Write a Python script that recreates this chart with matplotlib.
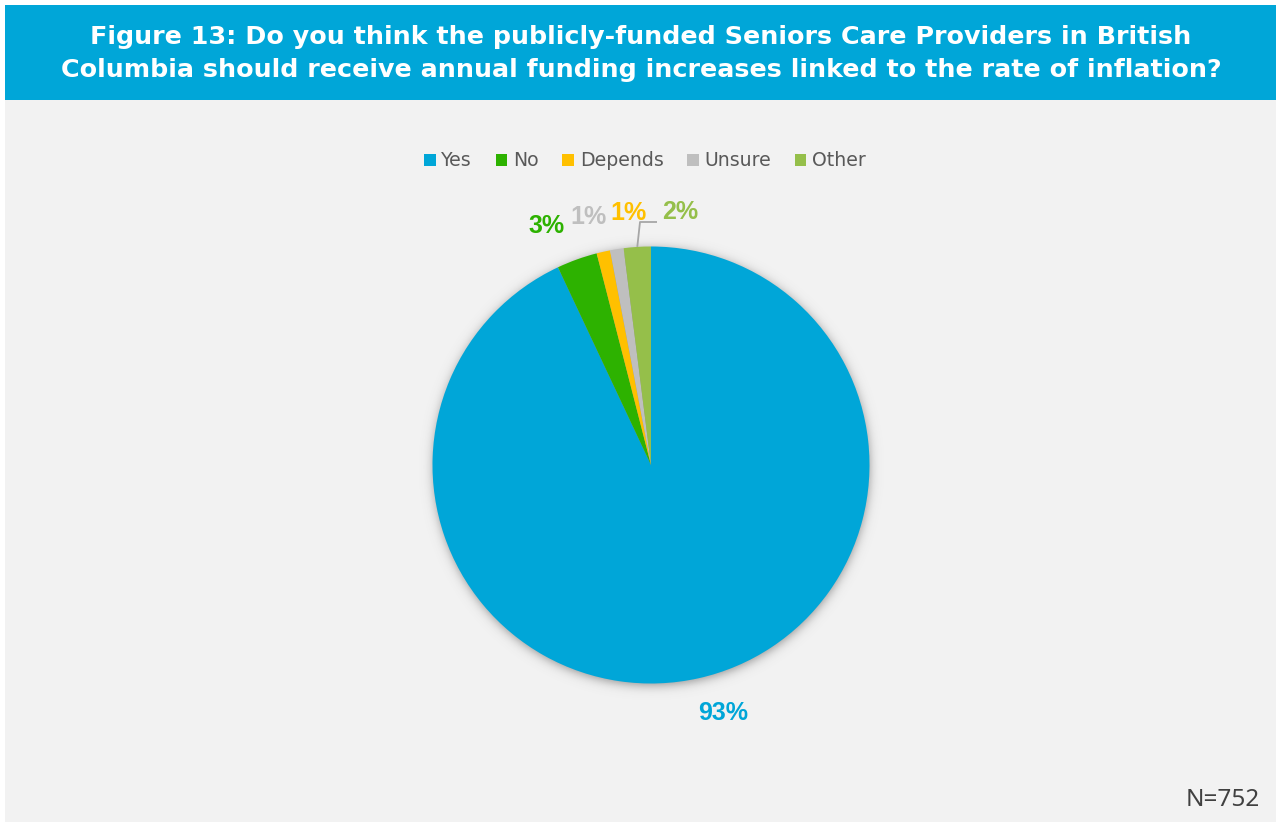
import numpy as np
import matplotlib
matplotlib.use("Agg")
import matplotlib.pyplot as plt
from matplotlib.patches import Rectangle, Patch

# Survey responses (share of respondents, %)
categories = ["Yes", "No", "Depends", "Unsure", "Other"]
shares = [93, 3, 1, 1, 2]
colors = ["#00A6D8", "#2DB200", "#FFC000", "#BFBFBF", "#95BF4A"]
label_colors = ["#00A6D8", "#2DB200", "#BFBFBF", "#FFC000", "#95BF4A"]
title_lines = [
    "Figure 13: Do you think the publicly-funded Seniors Care Providers in British",
    "Columbia should receive annual funding increases linked to the rate of inflation?",
]
sample_note = "N=752"

W, H = 1276, 822
fig = plt.figure(figsize=(W / 100, H / 100), dpi=100, facecolor="white")
ax = fig.add_axes([0, 0, 1, 1])
ax.set_xlim(0, W)
ax.set_ylim(0, H)
ax.axis("off")

# Panel and header band
ax.add_patch(Rectangle((5, 0), W - 5, H - 5, facecolor="#F2F2F2", edgecolor="none", zorder=0))
ax.add_patch(Rectangle((5, H - 100), W - 5, 95, facecolor="#00A6D8", edgecolor="none", zorder=1))
for i, line in enumerate(title_lines):
    ax.text(641, H - (37 + 33 * i), line, ha="center", va="center", color="white",
            fontsize=18.3, fontweight="bold", family="DejaVu Sans", zorder=2)

# Pie geometry (pixel space)
cx, cy, R = 651, H - 465, 218.5

# Soft drop shadow under the pie
ext = 40
gx = np.linspace(cx - R - ext, cx + R + ext, 600)
gy = np.linspace(cy - R - ext, cy + R + ext, 600)
XX, YY = np.meshgrid(gx, gy)
dist = np.hypot(XX - cx, YY - (cy - 3)) - R
alpha = 0.55 * 0.5 * (1 - np.tanh(dist / 6.0))
shadow = np.zeros(XX.shape + (4,))
shadow[..., :3] = 0.3
shadow[..., 3] = alpha
ax.imshow(shadow, extent=(gx[0], gx[-1], gy[0], gy[-1]), origin="lower",
          interpolation="bilinear", zorder=2)

wedges, _ = ax.pie(shares, colors=colors, startangle=90, counterclock=False,
                   center=(cx, cy), radius=R, frame=False,
                   wedgeprops=dict(linewidth=0, zorder=3))
for w in wedges:
    w.set_zorder(3)
ax.set_aspect("auto")
ax.set_xlim(0, W)
ax.set_ylim(0, H)
ax.axis("off")

# Data labels
label_pos = {
    "Yes": (723, 713),
    "No": (547, 226),
    "Depends": (588, 217),
    "Unsure": (628, 213),
    "Other": (680, 212),
}
for cat, val, col in zip(categories, shares, label_colors):
    x, y = label_pos[cat]
    ax.text(x, H - y, f"{val}%", ha="center", va="center", color=col,
            fontsize=18, fontweight="bold", family="Liberation Sans", zorder=5)

# Leader line for the "Other" label
w_other = wedges[categories.index("Other")]
mid = np.deg2rad((w_other.theta1 + w_other.theta2) / 2)
px, py = cx + R * np.cos(mid), cy + R * np.sin(mid)
ax.plot([px, 640, 657], [py, H - 222, H - 222], color="#A6A6A6", lw=1.3,
        solid_capstyle="butt", zorder=4)

# Legend
handles = [Patch(facecolor=c, edgecolor="none", label=l) for c, l in zip(colors, categories)]
leg = ax.legend(handles=handles, loc="center", bbox_to_anchor=(645 / W, 1 - 161 / H),
                bbox_transform=fig.transFigure, ncol=5, frameon=False,
                prop=dict(family="DejaVu Sans", size=13.6),
                handlelength=0.62, handleheight=0.62, handletextpad=0.3,
                columnspacing=1.25, borderpad=0)
for t in leg.get_texts():
    t.set_color("#595959")

ax.text(1260, H - 800, sample_note, ha="right", va="center", color="#404040",
        fontsize=17.5, family="Noto Sans", zorder=5)

fig.savefig("out.png", dpi=100, facecolor="white")
